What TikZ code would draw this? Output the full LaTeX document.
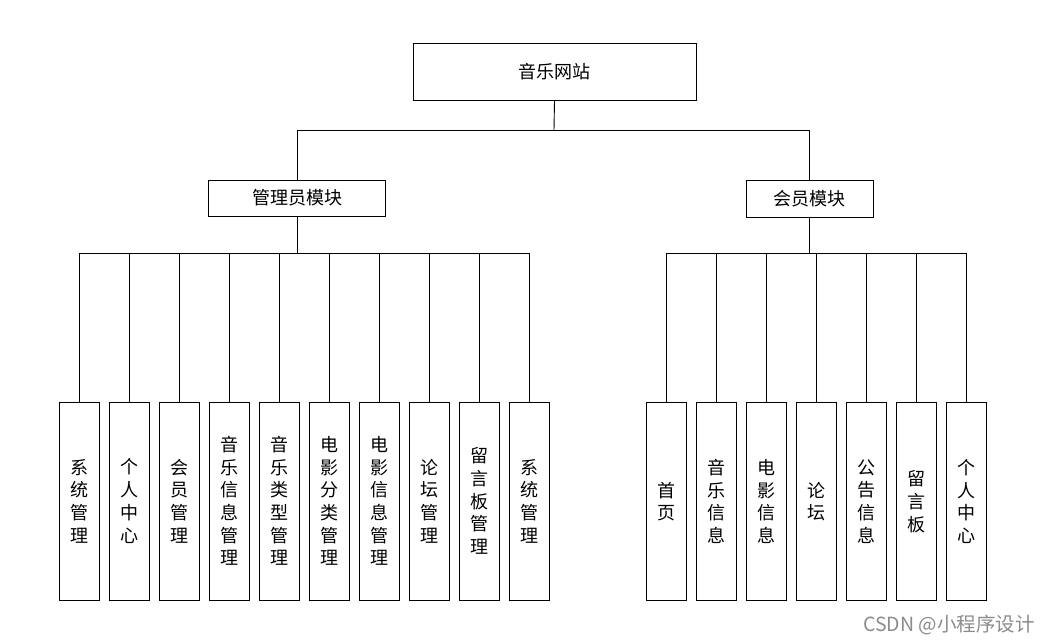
\documentclass[tikz,border=0pt]{standalone}
\usepackage{fontspec}
\setmainfont{Noto Sans CJK SC}
\begin{document}
\begin{tikzpicture}[x=1pt,y=-1pt,
  box/.style={draw=black,line width=0.9pt,fill=white,inner sep=0pt,font=\fontsize{18}{22.7}\selectfont},
  leaf/.style={box,minimum width=40pt,minimum height=198pt,align=center},
  link/.style={draw=black,line width=0.9pt}]
\fill[white] (0,0) rectangle (1052,643);
\useasboundingbox (0,0) rectangle (1052,643);
% top
\node[box,minimum width=283pt,minimum height=57pt] (top) at (554.5,71.5) {音乐网站};
\node[box,minimum width=177pt,minimum height=36pt] (admin) at (297,198) {管理员模块};
\node[box,minimum width=127pt,minimum height=37pt] (member) at (809.5,198.5) {会员模块};
\coordinate (j0) at (554,130);
\coordinate (j1) at (297,253);
% admin leaves
\foreach \i/\t in {1/系\\统\\管\\理, 2/个\\人\\中\\心, 3/会\\员\\管\\理, 4/音\\乐\\信\\息\\管\\理, 5/音\\乐\\类\\型\\管\\理, 6/电\\影\\分\\类\\管\\理, 7/电\\影\\信\\息\\管\\理, 8/论\\坛\\管\\理, 9/留\\言\\板\\管\\理, 10/系\\统\\管\\理}
  \node[leaf] (a\i) at ({79+50*(\i-1)},501) {\t};
% member leaves
\foreach \i/\t in {1/首\\页, 2/音\\乐\\信\\息, 3/电\\影\\信\\息, 4/论\\坛, 5/公\\告\\信\\息, 6/留\\言\\板, 7/个\\人\\中\\心}
  \node[leaf] (m\i) at ({666+50*(\i-1)},501.5) {\t};
% connectors level 1
\draw[link] (top.south) -- (j0);
\draw[link] (admin.north) -- (admin.north |- j0) -- (member.north |- j0) -- (member.north);
% admin level
\draw[link] (admin.south) -- (j1);
\draw[link] (a1.north |- j1) -- (a10.north |- j1);
\foreach \i in {1,...,10} \draw[link] (a\i.north) -- (a\i.north |- j1);
% member level
\draw[link] (member.south) -- (member.south |- j1);
\draw[link] (m1.north |- j1) -- (m7.north |- j1);
\foreach \i in {1,...,7} \draw[link] (m\i.north) -- (m\i.north |- j1);
% watermark
\node[text=black!45,font=\fontsize{19.5}{22}\selectfont,anchor=east,inner sep=0pt] (wm) at (1035,625) {CSDN @小程序设计};
\end{tikzpicture}
\end{document}
